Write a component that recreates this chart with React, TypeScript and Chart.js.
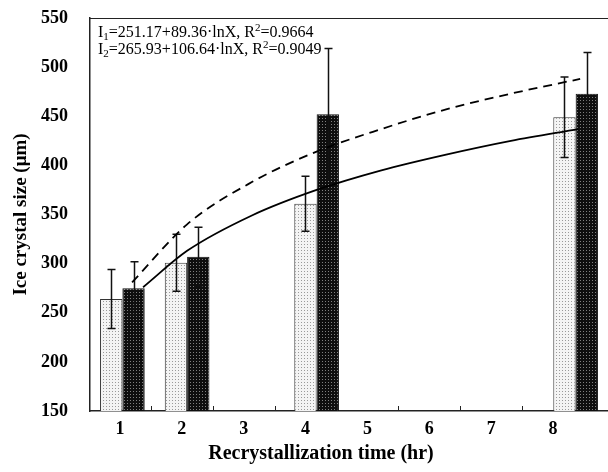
import React, { useEffect, useRef } from "react";
import { Chart, registerables } from "chart.js";
Chart.register(...registerables);

const categories = ["1", "2", "3", "4", "5", "6", "7", "8"];
const barHours = [1, 2, 4, 8];
const whiteBars = [264, 301, 361, 449];
const whiteErr = [30, 29, 28, 41];
const blackBars = [275, 307, 452, 473];
const blackErr = [27, 30, 67, 42];
const fit1X = [1.32, 2, 3, 4, 5, 6, 7, 8.04];
const fit1Y = [276, 313, 349, 375, 395, 411, 425, 437];
const fit2X = [1.15, 2, 3, 4, 5, 6, 7, 8.07];
const fit2Y = [281, 340, 383, 414, 437, 457, 473, 488];
const eq1 = ["I", "1", "=251.17+89.36·lnX, R", "2", "=0.9664"];
const eq2 = ["I", "2", "=265.93+106.64·lnX, R", "2", "=0.9049"];
const yTitle = "Ice crystal size (μm)";
const xTitle = "Recrystallization time (hr)";

const SERIF = "'Liberation Serif', 'Times New Roman', serif";

function makePattern(bg: string, dot: string, size: number) {
  const c = document.createElement("canvas");
  c.width = size;
  c.height = size;
  const g = c.getContext("2d")!;
  g.fillStyle = bg;
  g.fillRect(0, 0, size, size);
  g.fillStyle = dot;
  g.fillRect(1, 1, 1, 1);
  const ctx = document.createElement("canvas").getContext("2d")!;
  return ctx.createPattern(c, "repeat")!;
}

const errMap: Record<number, number[]> = { 0: whiteErr, 1: blackErr };

const decorPlugin = {
  id: "decor",
  afterDatasetDraw(chart: any, args: any) {
    const errs = errMap[args.index];
    if (!errs || chart.data.datasets[args.index].type !== "bar") return;
    const ctx = chart.ctx;
    const y = chart.scales.y;
    const meta = args.meta;
    ctx.save();
    ctx.strokeStyle = "#111";
    ctx.lineWidth = 1.5;
    meta.data.forEach((el: any, i: number) => {
      const v = chart.data.datasets[args.index].data[i].y;
      const e = errs[i];
      const x = Math.round(el.x) + 0.5;
      const yt = y.getPixelForValue(v + e);
      const yb = y.getPixelForValue(v - e);
      ctx.beginPath();
      ctx.moveTo(x, yt);
      ctx.lineTo(x, yb);
      ctx.moveTo(x - 4, yt);
      ctx.lineTo(x + 4, yt);
      ctx.moveTo(x - 4, yb);
      ctx.lineTo(x + 4, yb);
      ctx.stroke();
    });
    ctx.restore();
  },
  afterDraw(chart: any) {
    const ctx = chart.ctx;
    const a = chart.chartArea;
    const xt = chart.scales.xt;
    ctx.save();
    ctx.strokeStyle = "#222";
    ctx.lineWidth = 1;
    ctx.beginPath();
    ctx.moveTo(a.left, a.top + 0.5);
    ctx.lineTo(a.right, a.top + 0.5);
    ctx.stroke();
    // inward ticks between labels
    ctx.beginPath();
    for (let i = 1; i < categories.length; i++) {
      const px = Math.round(xt.getPixelForValue(i + 0.5)) + 0.5;
      ctx.moveTo(px, a.bottom);
      ctx.lineTo(px, a.bottom - 5);
    }
    ctx.stroke();
    // equations
    ctx.fillStyle = "#000";
    ctx.textBaseline = "alphabetic";
    const drawEq = (parts: string[], x0: number, base: number) => {
      let x = x0;
      parts.forEach((p, k) => {
        const small = k === 1 || k === 3;
        ctx.font = (small ? "11px " : "16px ") + SERIF;
        const dy = k === 1 ? 3 : k === 3 ? -6 : 0;
        ctx.fillText(p, x, base + dy);
        x += ctx.measureText(p).width;
      });
    };
    drawEq(eq1, a.left + 8, a.top + 19);
    drawEq(eq2, a.left + 8, a.top + 36);
    // x axis title
    ctx.font = "bold 20px " + SERIF;
    ctx.textAlign = "center";
    ctx.fillText(xTitle, a.left + 231, 459);
    ctx.restore();
  },
};

export default function App() {
  const ref = useRef<HTMLCanvasElement>(null);
  useEffect(() => {
    const whitePat = makePattern("#f4f4f4", "#9a9a9a", 3);
    const blackPat = makePattern("#0e0e0e", "#808080", 3);
    const chart = new Chart(ref.current!, {
      type: "bar",
      data: {
        datasets: [
          {
            type: "bar",
            data: barHours.map((x, i) => ({ x, y: whiteBars[i] })),
            backgroundColor: whitePat,
            borderColor: "#333",
            borderWidth: 1,
            barPercentage: 1,
            categoryPercentage: 0.69,
            order: 2,
          } as any,
          {
            type: "bar",
            data: barHours.map((x, i) => ({ x, y: blackBars[i] })),
            backgroundColor: blackPat,
            borderColor: "#111",
            borderWidth: 1,
            barPercentage: 1,
            categoryPercentage: 0.69,
            order: 2,
          } as any,
          {
            type: "line",
            data: fit1X.map((x, i) => ({ x, y: fit1Y[i] })),
            borderColor: "#000",
            borderWidth: 1.8,
            pointRadius: 0,
            tension: 0.4,
            cubicInterpolationMode: "monotone",
            order: 1,
          } as any,
          {
            type: "line",
            data: fit2X.map((x, i) => ({ x, y: fit2Y[i] })),
            borderColor: "#000",
            borderWidth: 1.8,
            borderDash: [9, 6],
            pointRadius: 0,
            tension: 0.4,
            cubicInterpolationMode: "monotone",
            order: 1,
          } as any,
        ],
      },
      options: {
        animation: false,
        responsive: true,
        maintainAspectRatio: false,
        layout: { padding: { top: 18, right: 0, left: 0, bottom: 0 } },
        plugins: { legend: { display: false }, tooltip: { enabled: false } },
        scales: {
          x: {
            type: "linear",
            display: false,
            min: 0.5,
            max: 8.5,
            offset: false,
            grid: { offset: false },
            ticks: { stepSize: 1 },
          },
          xt: {
            type: "linear",
            position: "bottom",
            min: 0.515,
            max: 8.889,
            offset: false,
            grid: { display: false, offset: false },
            border: { display: true, color: "#222", width: 1.5 },
            ticks: {
              stepSize: 1,
              includeBounds: false,
              padding: 0,
              color: "#000",
              font: { family: SERIF, size: 18, weight: "bold" },
            },
            afterFit: (s: any) => {
              s.height = 61;
              s.paddingLeft = 0;
              s.paddingRight = 0;
            },
          } as any,
          y: {
            min: 150,
            max: 550,
            grid: { display: false },
            border: { display: true, color: "#222", width: 1.5 },
            ticks: {
              stepSize: 50,
              padding: 14,
              color: "#000",
              font: { family: SERIF, size: 18, weight: "bold" },
            },
            title: {
              display: true,
              text: yTitle,
              color: "#000",
              padding: { top: 10, bottom: 0 },
              font: { family: SERIF, size: 19, weight: "bold" },
            },
            afterFit: (s: any) => {
              s.width = 90;
              s.paddingTop = 0;
              s.paddingBottom = 0;
            },
          } as any,
        },
      },
      plugins: [decorPlugin],
    });
    return () => chart.destroy();
  }, []);
  return (
    <div style={{ position: "fixed", left: 0, top: 0, width: 608, height: 472, background: "#fff" }}>
      <canvas ref={ref} />
    </div>
  );
}
